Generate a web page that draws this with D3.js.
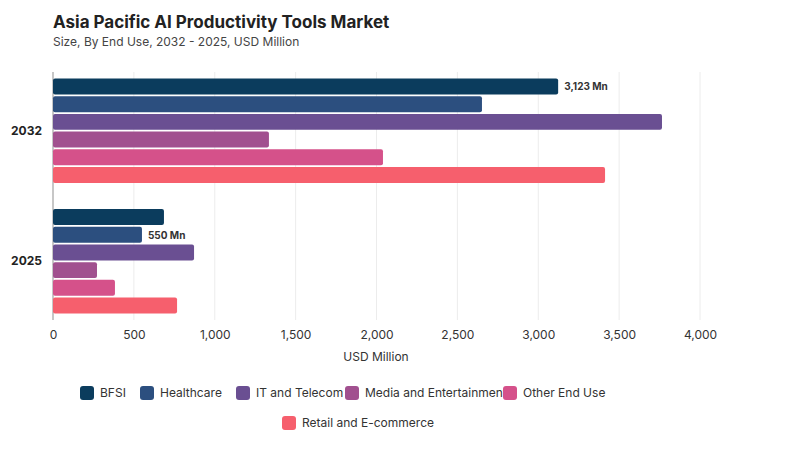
<!DOCTYPE html>
<html><head><meta charset="utf-8">
<script src="https://cdn.jsdelivr.net/npm/d3@7"></script>
<style>body{margin:0;background:#fff;font-family:Inter,"Noto Sans",sans-serif;}</style>
</head><body><div id="chart"></div>
<script>
var years = ["2032", "2025"];
var segments = ["BFSI", "Healthcare", "IT and Telecom", "Media and Entertainment", "Other End Use", "Retail and E-commerce"];
var colors = ["#0b3c5d", "#2c4f7f", "#6a4f92", "#a1508f", "#d5518a", "#f65f6d"];
var values2032 = [3123, 2652, 3765, 1335, 2040, 3413];
var values2025 = [686, 550, 872, 272, 383, 767];
var xTicks = [0, 500, 1000, 1500, 2000, 2500, 3000, 3500, 4000];
var series = { "2032": values2032, "2025": values2025 };
var labels = { "2032": { i: 0, text: "3,123 Mn" }, "2025": { i: 1, text: "550 Mn" } };

var svg = d3.select("#chart").append("svg").attr("width", 800).attr("height", 450);

svg.append("text").attr("x", 53).attr("y", 28).attr("font-size", 17).attr("font-weight", 700)
    .attr("fill", "#222").text("Asia Pacific AI Productivity Tools Market");
svg.append("text").attr("x", 53).attr("y", 46).attr("font-size", 12).attr("fill", "#444")
    .text("Size, By End Use, 2032 - 2025, USD Million");

var x = d3.scaleLinear().domain([0, 4000]).range([53, 700]);
var y = d3.scaleBand().domain(years).range([72, 320]).paddingInner(0.2).paddingOuter(0.05);
var yi = d3.scaleBand().domain(segments).range([0, y.bandwidth()]).paddingInner(0.1);

var g = svg.append("g");
g.selectAll(".grid").data(xTicks).enter().append("line")
    .attr("x1", d => x(d)).attr("x2", d => x(d)).attr("y1", 72).attr("y2", 320)
    .attr("stroke", "#ececec");
g.append("line").attr("x1", 53).attr("x2", 53).attr("y1", 72).attr("y2", 320).attr("stroke", "#999");

var xAxis = svg.append("g").attr("transform", "translate(0,320)")
    .call(d3.axisBottom(x).tickValues(xTicks).tickSize(0).tickPadding(10).tickFormat(d3.format(",")));
xAxis.select(".domain").remove();
xAxis.selectAll("text").attr("font-size", 12).attr("fill", "#333").attr("font-family", "Inter,sans-serif");
svg.append("text").attr("x", 376).attr("y", 361).attr("text-anchor", "middle").attr("font-size", 12)
    .attr("fill", "#333").text("USD Million");

years.forEach(yr => {
    svg.append("text").attr("x", 42).attr("y", y(yr) + y.bandwidth() / 2 + 4).attr("text-anchor", "end")
        .attr("font-size", 12).attr("font-weight", 700).attr("fill", "#222").text(yr);
    var gy = svg.append("g").attr("transform", "translate(0," + y(yr) + ")");
    gy.selectAll("rect").data(series[yr]).enter().append("rect")
        .attr("x", x(0)).attr("y", (d, i) => yi(segments[i]))
        .attr("width", d => x(d) - x(0)).attr("height", yi.bandwidth())
        .attr("rx", 2).attr("fill", (d, i) => colors[i]);
    var l = labels[yr];
    gy.append("text").attr("x", x(series[yr][l.i]) + 6).attr("y", yi(segments[l.i]) + yi.bandwidth() / 2 + 4)
        .attr("font-size", 10).attr("font-weight", 700).attr("fill", "#333").text(l.text);
});

var legendPos = [[80, 393], [140, 393], [236, 393], [345, 393], [503, 393], [282, 423]];
segments.forEach((s, i) => {
    var lg = svg.append("g").attr("transform", "translate(" + legendPos[i][0] + "," + legendPos[i][1] + ")");
    lg.append("rect").attr("x", 0).attr("y", -7).attr("width", 14).attr("height", 14).attr("rx", 3).attr("fill", colors[i]);
    lg.append("text").attr("x", 20).attr("y", 4).attr("font-size", 12).attr("fill", "#333").text(s);
});
</script></body></html>
